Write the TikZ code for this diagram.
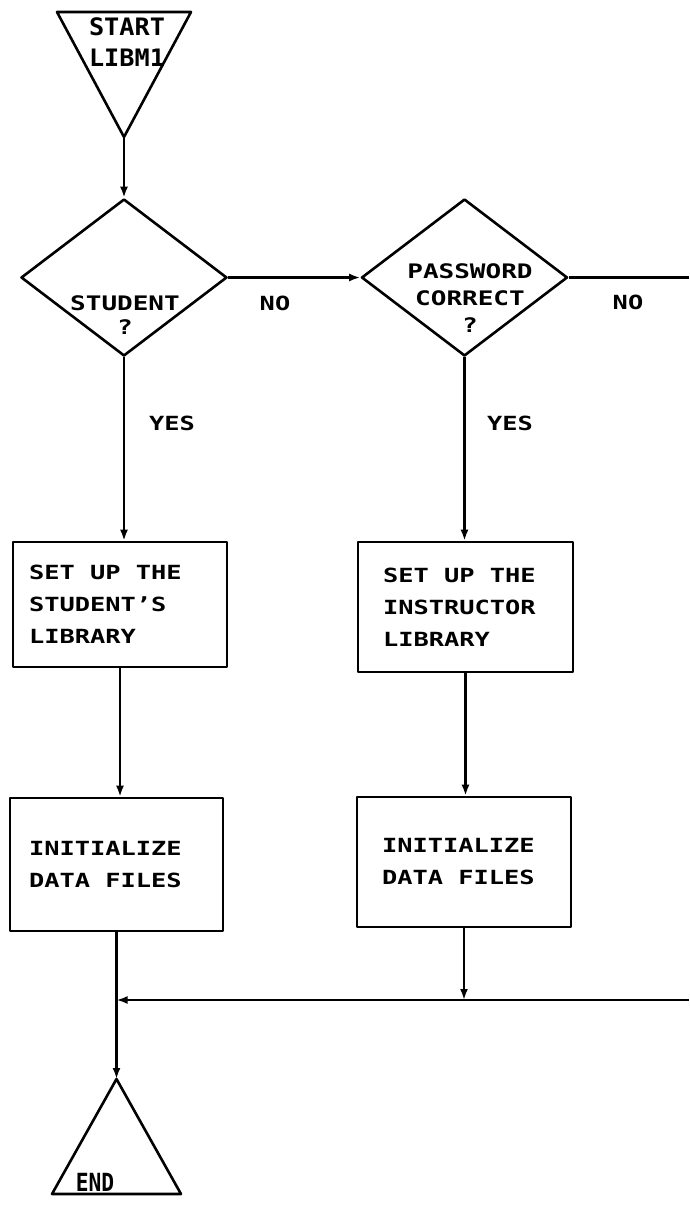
\documentclass[tikz,border=0pt]{standalone}
\usepackage{fontspec}
\usetikzlibrary{shapes.geometric,arrows.meta}
\newfontfamily\pfont{DejaVu Sans Mono}[FakeStretch=1.3]
\newfontfamily\pfontS{DejaVu Sans Mono}[FakeStretch=1.05]
\newfontfamily\pfontE{DejaVu Sans Mono}[FakeStretch=0.85]
\newcommand\gap{\hspace*{15.3pt}}
\begin{document}
\begin{tikzpicture}[x=1pt,y=-1pt,line width=2.6pt,line join=round,
  every node/.style={font=\pfont\bfseries\fontsize{19.5}{31}\selectfont},
  txt/.style={inner sep=0pt,align=center},
  boxtxt/.style={font=\pfont\bfseries\fontsize{19.5}{32}\selectfont},
  dtxt/.style={txt,font=\pfont\bfseries\fontsize{20}{27}\selectfont},
  procbox/.style={draw,rectangle,align=left,inner ysep=0pt,boxtxt},
  decision/.style={draw,diamond,inner sep=0pt,minimum width=206pt,minimum height=157pt},
  arr/.style={-{Latex[length=11pt,width=8pt]}}]
\useasboundingbox (0,0) rectangle (689,1205);
% start terminal
\coordinate (sapex) at (124,137);
\draw (57,12) -- (191,12) -- (sapex) -- cycle;
\node[txt,font=\pfontS\bfseries\fontsize{24}{31}\selectfont] (starttxt) at (127,42.5) {START\\LIBM1};
% decisions
\node[decision] (stud) at (124,277.5) {};
\node[dtxt] (studt) at (125,315) {STUDENT\\[-3pt]?};
\node[decision] (pass) at (464.5,277.5) {};
\node[dtxt] (passt) at (470,298.5) {PASSWORD\\CORRECT\\?};
% boxes
\node[procbox,minimum width=214pt,minimum height=125pt,inner xsep=16pt,text width=182pt] (box1) at (120,604.5) {SET\gap UP\gap THE\\STUDENT’S\\LIBRARY};
\node[procbox,minimum width=215pt,minimum height=130pt,inner xsep=25pt,text width=165pt] (box2) at (465.5,607) {SET\gap UP\gap THE\\INSTRUCTOR\\LIBRARY};
\node[procbox,minimum width=213pt,minimum height=133pt,inner xsep=19pt,text width=175pt] (box3) at (116.5,864.5) {INITIALIZE\\DATA\gap FILES};
\node[procbox,minimum width=214pt,minimum height=130pt,inner xsep=25pt,text width=164pt] (box4) at (464,862) {INITIALIZE\\DATA\gap FILES};
% end terminal
\coordinate (eapex) at (116.5,1079);
\draw (eapex) -- (181,1194) -- (52,1194) -- cycle;
\node[txt,font=\pfontE\bfseries\fontsize{25}{25}\selectfont] (endtxt) at (95,1182) {END};
% labels
\node[txt] (no1) at (275,303) {NO};
\node[txt] (no2) at (628,302) {NO};
\node[txt] (yes1) at (172,423) {YES};
\node[txt] (yes2) at (510,423) {YES};
% connectors
\coordinate (offNO) at (689,277.5);
\coordinate (offM) at (689,1000);
\draw[arr] (sapex) -- (stud.north);
\draw[arr] (stud.east) -- (pass.west);
\draw (pass.east) -- (offNO);
\draw[arr] (stud.south) -- (stud.south |- box1.north);
\draw[arr] (pass.south) -- (pass.south |- box2.north);
\draw[arr] (box1.south) -- (box1.south |- box3.north);
\draw[arr] (box2.south) -- (box2.south |- box4.north);
\draw[arr] (box4.south) -- (box4.south |- offM);
\draw[arr] (offM) -- (offM -| box3.south);
\draw[arr] (box3.south) -- (eapex);
\end{tikzpicture}
\end{document}
